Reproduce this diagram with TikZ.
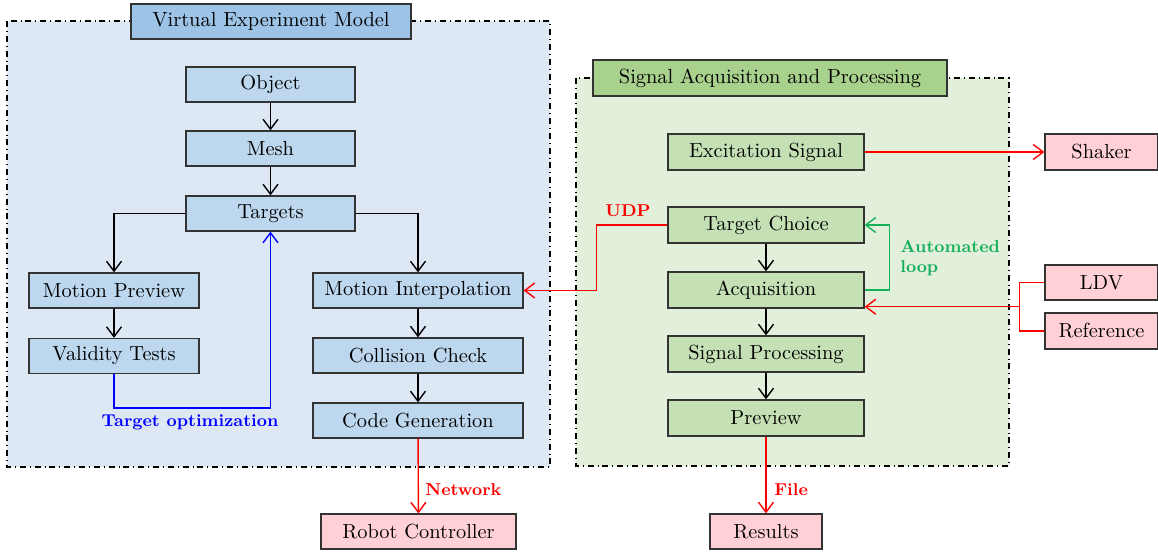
\documentclass[tikz,border=0pt]{standalone}
\usetikzlibrary{arrows.meta}
\definecolor{bluebg}{RGB}{221,232,244}
\definecolor{bluebox}{RGB}{189,215,238}
\definecolor{bluetitle}{RGB}{157,195,230}
\definecolor{greenbg}{RGB}{226,239,218}
\definecolor{greenbox}{RGB}{197,224,180}
\definecolor{greentitle}{RGB}{169,209,142}
\definecolor{pinkbox}{RGB}{255,209,214}
\definecolor{loopgreen}{RGB}{20,176,90}
\begin{document}
\begin{tikzpicture}[x=0.5pt,y=-0.5pt,
  box/.style={draw=black!80, line width=0.6pt, minimum height=17.5pt, inner sep=0pt, font=\fontsize{10.2}{12}\selectfont},
  bbox/.style={box, fill=bluebox},
  gbox/.style={box, fill=greenbox},
  pbox/.style={box, fill=pinkbox},
  arr/.style={-{Straight Barb[length=5pt,width=7.5pt]}, line width=0.7pt},
  container/.style={dash dot, line width=0.6pt},
  lbl/.style={font=\fontsize{8.6}{10}\selectfont\bfseries, inner sep=1pt}]
\useasboundingbox (0,0) rectangle (1158,552);

% containers
\draw[container, fill=bluebg] (7,21) rectangle (550,467);
\draw[container, fill=greenbg] (576,78) rectangle (1009,466);

\node[box, fill=bluetitle, minimum width=140pt] (vem) at (271,21.5) {Virtual Experiment Model};
\node[box, fill=greentitle, minimum width=177pt, minimum height=18pt] (sap) at (770,78) {Signal Acquisition and Processing};

% left column
\node[bbox, minimum width=84.5pt] (obj) at (270.5,84.5) {Object};
\node[bbox, minimum width=84.5pt] (mesh) at (270.5,148.5) {Mesh};
\node[bbox, minimum width=84.5pt] (tgt) at (270.5,213.5) {Targets};
\node[bbox, minimum width=85pt] (mp) at (114,290.5) {Motion Preview};
\node[bbox, minimum width=85pt] (vt) at (114,356) {Validity Tests};
\node[bbox, minimum width=105pt] (mi) at (418,290.5) {Motion Interpolation};
\node[bbox, minimum width=105pt] (cc) at (418,355.5) {Collision Check};
\node[bbox, minimum width=105pt] (cg) at (418,420.5) {Code Generation};
\node[pbox, minimum width=97.5pt] (rc) at (418.5,531.5) {Robot Controller};

% right column
\node[gbox, minimum width=98pt, minimum height=18pt] (es) at (766,152) {Excitation Signal};
\node[gbox, minimum width=98pt, minimum height=18pt] (tc) at (766,225) {Target Choice};
\node[gbox, minimum width=98pt, minimum height=18pt] (acq) at (766,290) {Acquisition};
\node[gbox, minimum width=98pt, minimum height=18pt] (spr) at (766,354) {Signal Processing};
\node[gbox, minimum width=98pt, minimum height=18pt] (pv) at (766,418) {Preview};
\node[pbox, minimum width=56pt] (res) at (766,531.5) {Results};
\node[pbox, minimum width=56.5pt, minimum height=18pt] (sh) at (1101.5,152) {Shaker};
\node[pbox, minimum width=56.5pt] (ldv) at (1101.5,282.5) {LDV};
\node[pbox, minimum width=56.5pt, minimum height=18pt] (ref) at (1101.5,331) {Reference};

% black arrows
\draw[arr] (obj) -- (mesh);
\draw[arr] (mesh) -- (tgt);
\draw[arr] (tgt.west) -| (mp.north);
\draw[arr] (tgt.east) -| (mi.north);
\draw[arr] (mp) -- (vt);
\draw[arr] (mi) -- (cc);
\draw[arr] (cc) -- (cg);
\draw[arr] (tc) -- (acq);
\draw[arr] (acq) -- (spr);
\draw[arr] (spr) -- (pv);

% blue loop
\draw[arr, blue] (vt.south) -- ++(0,34) coordinate (b1) -| (tgt.south);
\node[lbl, text=blue] (topt) at (190,422) {Target optimization};

% red links
\draw[arr, red] (cg) -- (rc);
\node[lbl, text=red, anchor=west] (net) at (423,490) {Network};
\draw[arr, red] (pv) -- (res);
\node[lbl, text=red, anchor=west] (file) at (772,490) {File};
\draw[arr, red] (es) -- (sh);
\draw[arr, red] (tc.west) -- ++(-71,0) coordinate (u1) |- (mi.east);
\node[lbl, text=red] (udp) at (628,211) {UDP};
\draw[red, line width=0.7pt] (ldv.west) -- ++(-25,0) coordinate (j1) |- (ref.west);
\coordinate (j) at (1020,306.75);
\draw[arr, red] (j) -- (acq.east |- j);

% green loop
\draw[arr, loopgreen] (acq.east) -- ++(25,0) coordinate (g1) |- (tc.east);
\node[lbl, text=loopgreen, anchor=west, align=left] (al) at (898,258) {Automated\\loop};
\end{tikzpicture}
\end{document}
